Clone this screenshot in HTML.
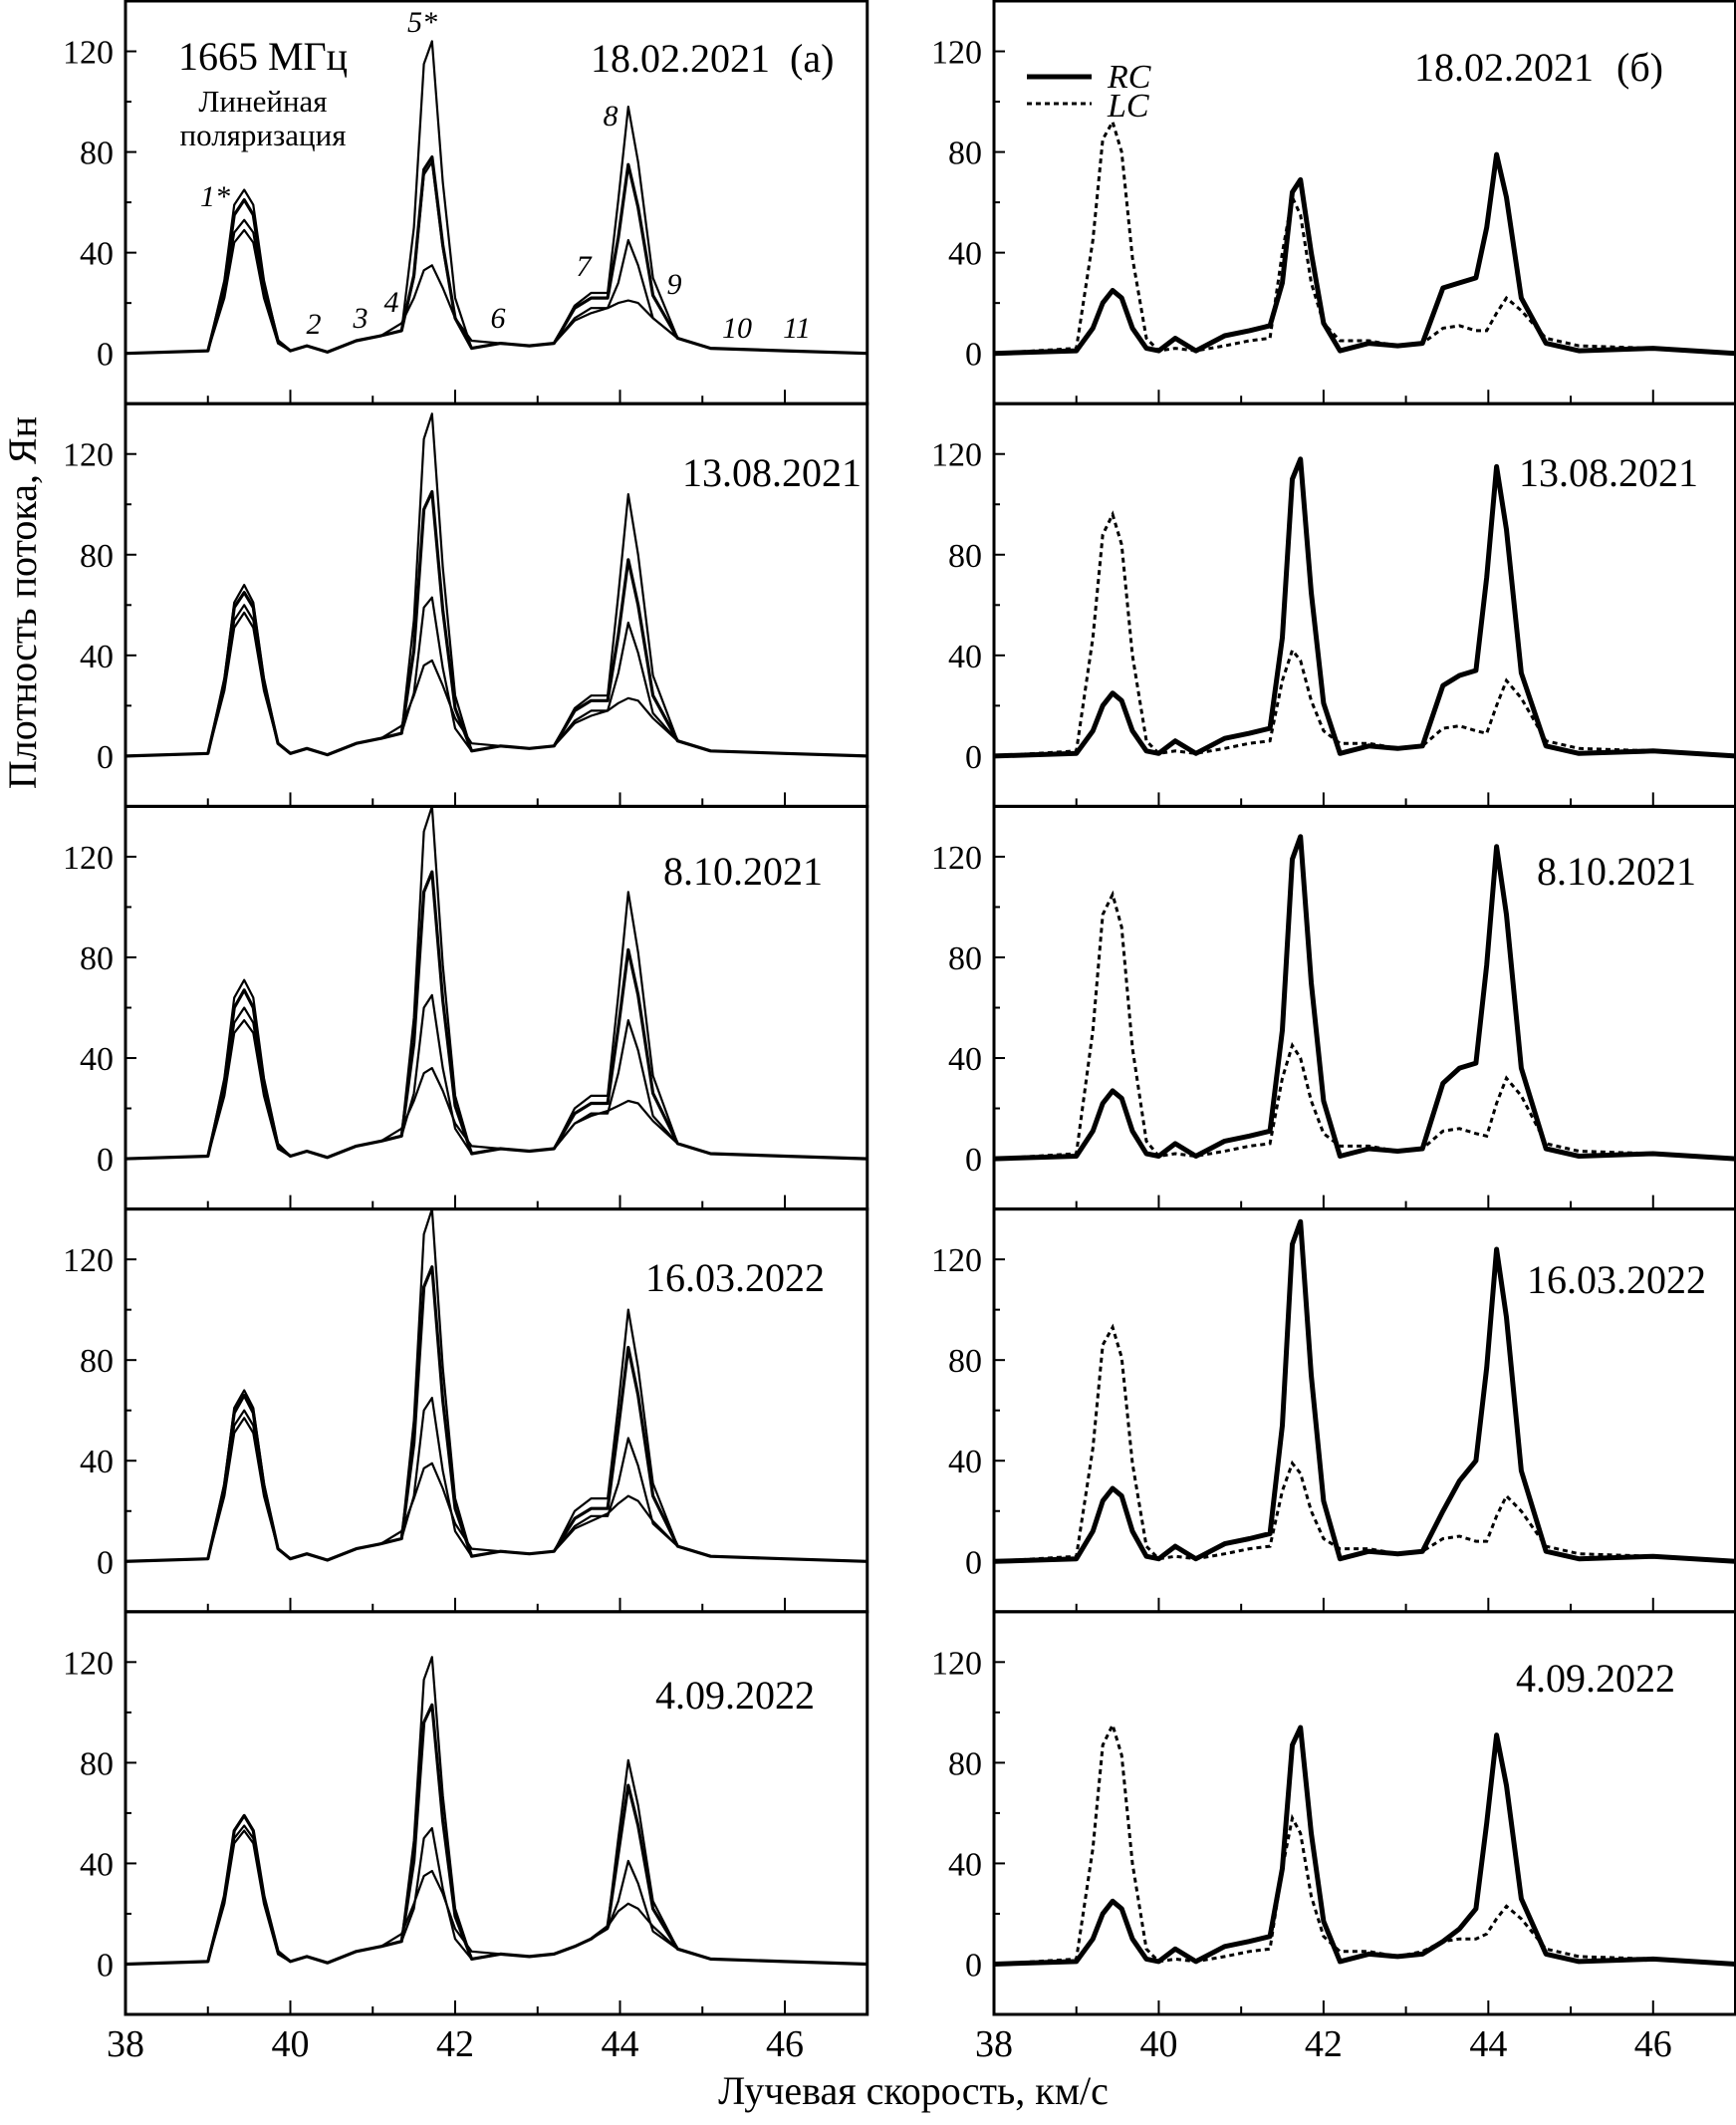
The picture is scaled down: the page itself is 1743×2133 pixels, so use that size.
<!DOCTYPE html>
<html><head><meta charset="utf-8">
<style>
html,body{margin:0;padding:0;background:#fff;}
svg, svg text{font-family:"Liberation Serif","DejaVu Serif",serif;}
</style></head>
<body>
<svg id="fig" width="1743" height="2128" viewBox="0 0 1743 2128" xmlns="http://www.w3.org/2000/svg" font-family="Liberation Serif, DejaVu Serif, serif">
<g id="axes"></g>
<g id="lines"></g>
<g id="labels" font-family="Liberation Serif, DejaVu Serif, serif">
  <text x="264" y="70" font-size="40" text-anchor="middle">1665 МГц</text>
  <text x="264" y="112" font-size="31" text-anchor="middle">Линейная</text>
  <text x="264" y="146" font-size="31" text-anchor="middle">поляризация</text>
  <g font-style="italic" font-size="30">
    <text x="424" y="32" text-anchor="middle">5*</text>
    <text x="216" y="207" text-anchor="middle">1*</text>
    <text x="315" y="335" text-anchor="middle">2</text>
    <text x="362" y="329" text-anchor="middle">3</text>
    <text x="393" y="313" text-anchor="middle">4</text>
    <text x="500" y="329" text-anchor="middle">6</text>
    <text x="586" y="277" text-anchor="middle">7</text>
    <text x="613" y="126" text-anchor="middle">8</text>
    <text x="677" y="295" text-anchor="middle">9</text>
    <text x="740" y="339" text-anchor="middle">10</text>
    <text x="800" y="339" text-anchor="middle">11</text>
  </g>
  <g font-size="40">
    <text x="593" y="72" xml:space="preserve">18.02.2021  (а)</text>
    <text x="865" y="488" text-anchor="end">13.08.2021</text>
    <text x="826" y="888" text-anchor="end">8.10.2021</text>
    <text x="828" y="1296" text-anchor="end">16.03.2022</text>
    <text x="818" y="1715" text-anchor="end">4.09.2022</text>
    <text x="1420" y="81">18.02.2021</text>
    <text x="1623" y="81">(б)</text>
    <text x="1705" y="488" text-anchor="end">13.08.2021</text>
    <text x="1703" y="888" text-anchor="end">8.10.2021</text>
    <text x="1713" y="1298" text-anchor="end">16.03.2022</text>
    <text x="1682" y="1698" text-anchor="end">4.09.2022</text>
  </g>
  <g>
    <line x1="1031" y1="77" x2="1096" y2="77" stroke="#000" stroke-width="5"/>
    <text x="1112" y="88" font-size="34" font-style="italic">RC</text>
    <line x1="1031" y1="104" x2="1096" y2="104" stroke="#000" stroke-width="3" stroke-dasharray="5,4"/>
    <text x="1112" y="117" font-size="34" font-style="italic">LC</text>
  </g>
  <text transform="translate(36,605) rotate(-90)" font-size="40" text-anchor="middle">Плотность потока, Ян</text>
  <text x="917" y="2112" font-size="40" text-anchor="middle">Лучевая скорость, км/с</text>
</g>
</svg>
<script>
const velocities = [38,39.0,39.2,39.32,39.44,39.55,39.68,39.85,40.0,40.2,40.45,40.8,41.1,41.35,41.5,41.62,41.72,41.85,42.0,42.2,42.55,42.9,43.2,43.45,43.65,43.85,43.98,44.1,44.22,44.4,44.7,45.1,46.0,47];
const xTicks = [38,40,42,44,46];
const yTicks = [0,40,80,120];
const dates = ["18.02.2021","13.08.2021","8.10.2021","16.03.2022","4.09.2022"];

const lin1 = [
[0,1,29,59,65,59,29,5,1,3,0.5,5,7,9,50,115,124,68,22,2,4,3,4,19,24,24,61,98,76,30,6,2,1,0],
[0,1,27,55,61,55,27,5,1,3,0.5,5,7,9,31,73,78,43,14,2,4,3,4,18,22,22,46,75,58,23,6,2,1,0],
[0,1,24,48,53,48,24,4,1,3,0.5,5,7,9,30,71,76,42,14,2,4,3,4,14,18,18,28,45,35,14,6,2,1,0],
[0,1,22,44,49,44,22,4,1,3,0.5,5,7,12,22,33,35,26,14,5,4,3,4,13,16,18,20,21,20,14,6,2,1,0]];
const lin2 = [
[0,1,31,61,68,61,31,5,1,3,0.5,5,7,9,54,126,136,75,24,2,4,3,4,19,24,24,64,104,80,32,6,2,1,0],
[0,1,29,59,65,59,29,5,1,3,0.5,5,7,9,42,98,105,58,19,2,4,3,4,18,22,22,48,78,60,24,6,2,1,0],
[0,1,27,54,60,54,27,5,1,3,0.5,5,7,9,25,59,63,35,11,2,4,3,4,14,18,18,33,53,41,17,6,2,1,0],
[0,1,26,51,57,51,26,5,1,3,0.5,5,7,12,24,36,38,28,15,5,4,3,4,13,16,18,21,23,22,15,6,2,1,0]];
const lin3 = [
[0,1,32,64,71,64,32,6,1,3,0.5,5,7,9,56,130,140,77,25,2,4,3,4,20,25,25,65,106,82,33,6,2,1,0],
[0,1,30,60,67,60,30,5,1,3,0.5,5,7,9,46,106,114,63,21,2,4,3,4,18,22,22,52,83,65,26,6,2,1,0],
[0,1,27,54,60,54,27,5,1,3,0.5,5,7,9,26,60,65,36,12,2,4,3,4,14,18,18,34,55,43,17,6,2,1,0],
[0,1,25,50,55,50,25,4,1,3,0.5,5,7,12,23,34,36,27,14,5,4,3,4,14,17,19,21,23,22,15,6,2,1,0]];
const lin4 = [
[0,1,31,61,68,61,31,5,1,3,0.5,5,7,9,56,130,140,77,25,2,4,3,4,20,25,25,62,100,77,31,6,2,1,0],
[0,1,30,59,66,59,30,5,1,3,0.5,5,7,9,47,109,117,64,21,2,4,3,4,17,21,21,53,85,66,26,6,2,1,0],
[0,1,27,54,60,54,27,5,1,3,0.5,5,7,9,26,60,65,36,12,2,4,3,4,14,18,18,31,49,38,15,6,2,1,0],
[0,1,26,51,57,51,26,5,1,3,0.5,5,7,12,25,37,39,29,15,5,4,3,4,13,16,19,23,26,24,16,6,2,1,0]];
const lin5 = [
[0,1,27,53,59,53,27,5,1,3,0.5,5,7,9,49,113,122,67,22,2,4,3,4,7,10,15,50,81,63,25,6,2,1,0],
[0,1,27,53,59,53,27,5,1,3,0.5,5,7,9,41,96,103,57,19,2,4,3,4,7,10,15,44,71,55,22,6,2,1,0],
[0,1,25,50,55,50,25,4,1,3,0.5,5,7,9,22,50,54,30,10,2,4,3,4,7,10,14,25,41,32,13,6,2,1,0],
[0,1,24,48,53,48,24,4,1,3,0.5,5,7,12,24,35,37,28,14,5,4,3,4,7,10,15,21,24,22,15,6,2,1,0]];

const rc1 = [0,1,10,20,25,22,10,2,1,6,1,7,9,11,28,64,69,40,12,1,4,3,4,26,28,30,50,79,62,22,4,1,2,0];
const rc2 = [0,1,10,20,25,22,10,2,1,6,1,7,9,11,47,110,118,65,21,1,4,3,4,28,32,34,71,115,90,33,4,1,2,0];
const rc3 = [0,1,11,22,27,24,11,2,1,6,1,7,9,11,51,119,128,70,23,1,4,3,4,30,36,38,77,124,97,36,4,1,2,0];
const rc4 = [0,1,12,24,29,26,12,2,1,6,1,7,9,11,54,126,135,74,24,1,4,3,4,20,32,40,77,124,97,36,4,1,2,0];
const rc5 = [0,1,10,20,25,22,10,2,1,6,1,7,9,11,38,87,94,52,17,1,4,3,4,9,14,22,56,91,71,26,4,1,2,0];

const lc1 = [0,2,45,85,92,80,38,6,1,2,1,3,5,6,40,62,55,28,12,5,5,3,4,10,11,9,9,16,22,17,6,3,2,0];
const lc2 = [0,2,47,88,96,84,40,6,1,2,1,3,5,6,30,42,38,22,10,5,5,3,4,11,12,10,9,20,30,23,6,3,2,0];
const lc3 = [0,2,51,97,105,92,44,7,1,2,1,3,5,6,32,45,40,23,10,5,5,3,4,11,12,10,9,22,32,25,6,3,2,0];
const lc4 = [0,2,45,86,93,81,39,6,1,2,1,3,5,6,28,39,35,20,9,5,5,3,4,9,10,8,8,18,26,20,6,3,2,0];
const lc5 = [0,2,46,87,95,83,40,6,1,2,1,3,5,6,38,58,52,27,11,5,5,3,5,9,10,10,12,18,23,18,6,3,2,0];

const linearPanels = [lin1, lin2, lin3, lin4, lin5];
const rcPanels = [rc1, rc2, rc3, rc4, rc5];
const lcPanels = [lc1, lc2, lc3, lc4, lc5];

const NS = "http://www.w3.org/2000/svg";
const FONT = "Liberation Serif, DejaVu Serif, serif";
const PANEL_H = 404.2, Y_MIN = -20, Y_MAX = 140;
const COLS = [{x0:126, x1:870.75}, {x0:998, x1:1742.5}];
const X_MIN = 38, X_MAX = 47;
function xScale(col, v){ const c = COLS[col]; return c.x0 + (v - X_MIN) / (X_MAX - X_MIN) * (c.x1 - c.x0); }
function yScale(row, val){ const top = 1 + PANEL_H * row; return top + (Y_MAX - val) / (Y_MAX - Y_MIN) * PANEL_H; }
function mk(tag, attrs){ const e = document.createElementNS(NS, tag); for (const k in attrs) e.setAttribute(k, attrs[k]); return e; }

const axesG = document.getElementById('axes');
const linesG = document.getElementById('lines');

for (let col = 0; col < 2; col++) {
  for (let row = 0; row < 5; row++) {
    const top = 1 + PANEL_H * row, bot = top + PANEL_H;
    const c = COLS[col];
    const frame = mk('rect', {x:c.x0, y:top, width:c.x1 - c.x0, height:PANEL_H, fill:'none', stroke:'#000', 'stroke-width':3});
    
    
    axesG.appendChild(frame);
    for (let v = 39; v <= 46; v++) {
      const major = v % 2 === 0;
      const x = xScale(col, v);
      const t = mk('line', {x1:x, y1:bot, x2:x, y2:bot - (major ? 14 : 8), stroke:'#000', 'stroke-width':2});
      
      
      axesG.appendChild(t);
    }
    for (let val = 0; val <= 120; val += 20) {
      const major = val % 40 === 0;
      const y = yScale(row, val);
      const t = mk('line', {x1:c.x0, y1:y, x2:c.x0 + (major ? 11 : 6), y2:y, stroke:'#000', 'stroke-width':2});
      
      
      axesG.appendChild(t);
    }
    yTicks.forEach(val => {
      const lab = mk('text', {x:c.x0 - 12, y:yScale(row, val) + 12, 'font-size':34, 'text-anchor':'end', 'font-family':FONT});
      lab.textContent = val;
      
      
      axesG.appendChild(lab);
    });
  }
  xTicks.forEach(v => {
    const lab = mk('text', {x:xScale(col, v), y:2064, 'font-size':38, 'text-anchor':'middle', 'font-family':FONT});
    lab.textContent = v;
    
    
    axesG.appendChild(lab);
  });
}

function pathFor(col, row, arr){
  return arr.map((val, i) => (i ? 'L' : 'M') + xScale(col, velocities[i]).toFixed(1) + ' ' + yScale(row, val).toFixed(1)).join(' ');
}

linearPanels.forEach((series, row) => {
  series.forEach((arr, k) => {
    const p = mk('path', {d:pathFor(0, row, arr), fill:'none', stroke:'#000', 'stroke-width': k === 1 ? 3.2 : 2.2, 'stroke-linejoin':'round'});
    
    
    linesG.appendChild(p);
  });
});
lcPanels.forEach((arr, row) => {
  const p = mk('path', {d:pathFor(1, row, arr), fill:'none', stroke:'#000', 'stroke-width':3, 'stroke-dasharray':'5,4'});
  
  
  linesG.appendChild(p);
});
rcPanels.forEach((arr, row) => {
  const p = mk('path', {d:pathFor(1, row, arr), fill:'none', stroke:'#000', 'stroke-width':5, 'stroke-linejoin':'round'});
  
  
  linesG.appendChild(p);
});
</script>
</body></html>
